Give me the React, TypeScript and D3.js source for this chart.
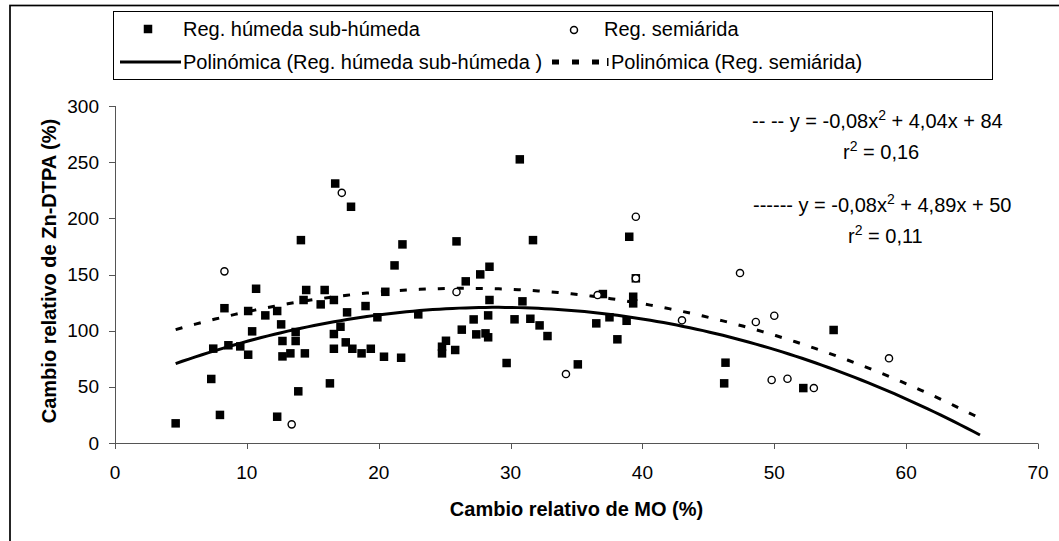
import React from 'react';
import * as d3 from 'd3';

// Relative change of organic matter (MO, %) vs relative change of Zn-DTPA (%)
const humedaMO = [
  4.6, 7.3, 7.45, 7.96, 8.3, 8.6, 9.5, 10.1, 10.1, 10.4, 10.7, 11.4, 12.3, 12.3,
  12.6, 12.7, 12.7, 13.3, 13.7, 13.7, 13.9, 14.1, 14.3, 14.4, 14.5, 15.6, 15.9,
  16.3, 16.6, 16.6, 16.6, 16.7, 17.1, 17.5, 17.6, 17.9, 18.0, 18.7, 19.0, 19.4,
  19.9, 20.4, 20.5, 21.2, 21.7, 21.8, 23.0, 24.8, 24.8, 25.1, 25.8, 25.9, 26.3,
  26.6, 27.2, 27.4, 27.7, 28.1, 28.3, 28.3, 28.4, 28.4, 29.7, 30.3, 30.7, 30.9,
  31.5, 31.7, 32.2, 32.8, 35.1, 36.5, 37.0, 37.5, 38.1, 38.8, 39.0, 39.3, 39.3,
  39.5, 46.2, 46.3, 52.2, 54.5,
];
const humedaZn = [
  17.5, 57, 84, 25, 120, 87, 86, 117.5, 78.6, 99.4, 137.3, 113.6, 117.5, 23.4,
  105.6, 90.8, 77.1, 79.8, 98.8, 90.8, 46, 180.6, 127.3, 79.8, 136.2, 123.4, 136.2,
  53.1, 127.3, 97, 83.9, 231, 103.5, 89.6, 116.3, 210.3, 83.9, 79.8, 121.9, 83.9,
  111.9, 76.8, 134.6, 158.1, 75.9, 176.8, 114.5, 85.7, 79.8, 91, 82.8, 179.5, 100.9,
  143.9, 110, 96.7, 150.1, 97.6, 94.1, 113.6, 127.3, 156.9, 71.2, 110.1, 252.5, 126.1,
  110.6, 180.6, 104.7, 95.2, 70, 106.5, 132.6, 111.9, 92.3, 108.8, 183.6, 130.2, 124.3,
  146.6, 53.1, 71.5, 48.9, 100.6,
];
const semiMO = [8.3, 13.4, 17.2, 25.9, 34.2, 36.6, 39.5, 39.5, 43.0, 47.4, 48.6, 49.8, 50.0, 51.0, 53.0, 58.7];
const semiZn = [152.8, 16.6, 222.7, 134.4, 61.4, 131.7, 201.4, 146.6, 109.2, 151.3, 107.7, 56.1, 113.3, 57.2, 48.9, 75.4];

// Second-order trend lines: [a, b, c] for y = a·x² + b·x + c
const humedaFit = [-0.0845, 4.89, 50];
const semiFit = [-0.076, 4.04, 84];
const fitRange = [4.6, 65.7];

const xTicks = [0, 10, 20, 30, 40, 50, 60, 70];
const yTicks = [0, 50, 100, 150, 200, 250, 300];

const FONT = '"Liberation Sans", Arial, Helvetica, sans-serif';
const AXIS = '#555';

export default function App() {
  const W = 1059;
  const H = 541;
  const x = d3.scaleLinear().domain([0, 70]).range([115, 1038]);
  const y = d3.scaleLinear().domain([0, 300]).range([443, 106]);

  const fitPath = (coef: number[]) => {
    const xs = d3.range(fitRange[0], fitRange[1] + 0.001, 0.5);
    const pts: [number, number][] = xs.map((v) => [v, coef[0] * v * v + coef[1] * v + coef[2]]);
    return d3
      .line<[number, number]>()
      .x((d) => x(d[0]))
      .y((d) => y(d[1]))(pts) as string;
  };

  const sq = 8.5;
  const sup = (s: string) => (
    <tspan dy={-8} fontSize={14}>
      {s}
    </tspan>
  );

  return (
    <svg
      width={W}
      height={H}
      style={{ position: 'absolute', left: 0, top: 0, background: '#fff' }}
      fontFamily={FONT}
    >
      <rect x={0} y={0} width={W} height={H} fill="#fff" />
      {/* chart frame, continuing past the right and bottom edges */}
      <rect x={10} y={5.5} width={W + 20} height={H + 20} fill="none" stroke="#000" strokeWidth={1.7} />

      {/* legend */}
      <rect x={113.5} y={11.5} width={879} height={68} fill="#fff" stroke="#000" strokeWidth={1} />
      <rect x={148 - sq / 2} y={29 - sq / 2} width={sq} height={sq} fill="#000" />
      <text x={183} y={29} dy="0.35em" fontSize={20}>Reg. húmeda sub-húmeda</text>
      <circle cx={574} cy={30} r={3.5} fill="#fff" stroke="#000" strokeWidth={1.5} />
      <text x={604} y={29} dy="0.35em" fontSize={20}>Reg. semiárida</text>
      <line x1={120} x2={181} y1={62} y2={62} stroke="#000" strokeWidth={3} />
      <text x={183} y={62} dy="0.35em" fontSize={20}>Polinómica (Reg. húmeda sub-húmeda )</text>
      <line x1={552} x2={602} y1={62} y2={62} stroke="#000" strokeWidth={5} strokeDasharray="7,13" />
      <rect x={607} y={58} width={1.5} height={8} fill="#000" />
      <text x={611} y={62} dy="0.35em" fontSize={20}>Polinómica (Reg. semiárida)</text>

      {/* axes */}
      <line x1={x(0)} x2={x(70)} y1={443.5} y2={443.5} stroke={AXIS} strokeWidth={1} />
      <line x1={115.5} x2={115.5} y1={y(300)} y2={443.5} stroke={AXIS} strokeWidth={1} />
      {xTicks.map((t) => (
        <g key={'x' + t}>
          <line x1={Math.round(x(t)) + 0.5} x2={Math.round(x(t)) + 0.5} y1={443.5} y2={449} stroke={AXIS} />
          <text x={x(t)} y={472} dy="0.35em" textAnchor="middle" fontSize={19}>{t}</text>
        </g>
      ))}
      {yTicks.map((t) => (
        <g key={'y' + t}>
          <line x1={109} x2={115.5} y1={Math.round(y(t)) + 0.5} y2={Math.round(y(t)) + 0.5} stroke={AXIS} />
          <text x={99} y={y(t)} dy="0.35em" textAnchor="end" fontSize={19}>{t}</text>
        </g>
      ))}
      <text x={576.5} y={509} dy="0.35em" textAnchor="middle" fontSize={20} fontWeight="bold">
        Cambio relativo de MO (%)
      </text>
      <text
        transform={`translate(49,${271}) rotate(-90)`}
        textAnchor="middle"
        dy="0.35em"
        fontSize={20}
        fontWeight="bold"
      >
        Cambio relativo de Zn-DTPA (%)
      </text>

      {/* trend lines */}
      <path d={fitPath(humedaFit)} fill="none" stroke="#000" strokeWidth={3} />
      <path d={fitPath(semiFit)} fill="none" stroke="#000" strokeWidth={3} strokeDasharray="7,12" />

      {/* points */}
      {humedaMO.map((v, i) => (
        <rect key={'h' + i} x={x(v) - sq / 2} y={y(humedaZn[i]) - sq / 2} width={sq} height={sq} fill="#000" />
      ))}
      {semiMO.map((v, i) => (
        <circle key={'s' + i} cx={x(v)} cy={y(semiZn[i])} r={3.6} fill="#fff" stroke="#000" strokeWidth={1.4} />
      ))}

      {/* equations */}
      <g fontSize={20} style={{ whiteSpace: 'pre' }}>
        <text x={752} y={128}>
          <tspan>-- -- y = -0,08x</tspan>
          {sup('2')}
          <tspan dy={8}> + 4,04x + 84</tspan>
        </text>
        <text x={843} y={159}>
          <tspan>r</tspan>
          {sup('2')}
          <tspan dy={8}> = 0,16</tspan>
        </text>
        <text x={753} y={212}>
          <tspan>------ y  = -0,08x</tspan>
          {sup('2')}
          <tspan dy={8}> + 4,89x + 50</tspan>
        </text>
        <text x={848} y={243}>
          <tspan>r</tspan>
          {sup('2')}
          <tspan dy={8}> = 0,11</tspan>
        </text>
      </g>
    </svg>
  );
}
